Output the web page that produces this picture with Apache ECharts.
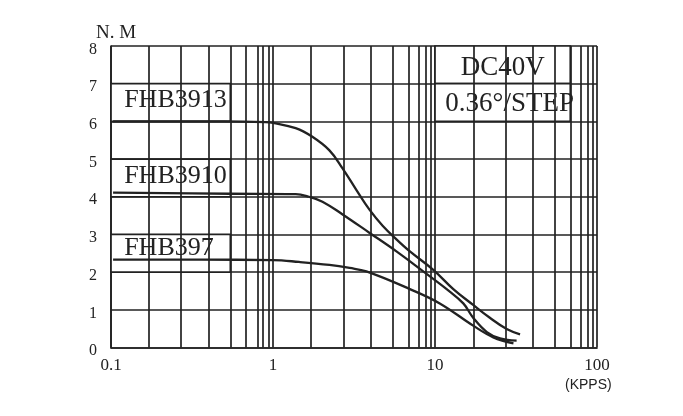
<!DOCTYPE html>
<html>
<head>
<meta charset="utf-8">
<script src="https://cdn.jsdelivr.net/npm/echarts@6/dist/echarts.min.js"></script>
<style>html,body{margin:0;padding:0;background:#fff}#c{width:683px;height:416px}</style>
</head>
<body>
<div id="c"></div>
<script>
// ---- data ----
const xTickValues = [0.1, 1, 10, 100];
const xTickLabels = ['0.1', '1', '10', '100'];
// minor vertical grid lines inside each decade, as multiples of the decade start (as drawn in the reference)
const minorFactors = [1.724, 2.735, 4.018, 5.453, 6.84, 7.96, 8.71, 9.38];

const fhb3913X = [0.103, 0.5, 0.9, 1.0, 1.38, 1.75, 2.23, 2.68, 3.26, 3.95, 4.75, 5.78, 7.0, 9.76, 12.97, 17.2, 21.8, 27.7, 33.5];
const fhb3913Y = [6.0, 6.0, 5.98, 5.96, 5.82, 5.59, 5.23, 4.76, 4.19, 3.65, 3.23, 2.87, 2.55, 2.06, 1.55, 1.13, 0.79, 0.49, 0.35];

const fhb3910X = [0.103, 0.543, 1.38, 1.67, 2.02, 2.69, 3.95, 5.78, 8.46, 11.8, 14.95, 17.2, 20.9, 25.2, 31.9];
const fhb3910Y = [4.11, 4.08, 4.07, 4.0, 3.87, 3.53, 3.04, 2.55, 2.02, 1.55, 1.17, 0.79, 0.41, 0.24, 0.18];

const fhb397X = [0.103, 0.354, 1.0, 1.45, 2.23, 2.97, 3.77, 7.0, 10.7, 17.2, 22.9, 30.5];
const fhb397Y = [2.33, 2.33, 2.32, 2.27, 2.19, 2.11, 2.02, 1.55, 1.17, 0.58, 0.27, 0.11];

const seriesNames = ['FHB3913', 'FHB3910', 'FHB397'];
const noteTexts = ['DC40V', '0.36°/STEP'];

// ---- build ----
const pair = (xs, ys) => xs.map((x, i) => [x, ys[i]]);
const ink = '#222';
const serif = '"Liberation Serif", "DejaVu Serif", serif';
const gridW = 1.7;

const minorLines = [];
[0.1, 1, 10].forEach(d => minorFactors.forEach(f => minorLines.push({ xAxis: d * f })));

const boxStyle = { color: '#fff', borderColor: ink, borderWidth: gridW };
const nameLabel = (dy) => ({
  show: true, position: 'insideLeft', distance: 14, offset: [0, dy],
  color: ink, fontFamily: serif, fontSize: 26, formatter: '{b}'
});
const noteLabel = (dx, dy) => ({
  show: true, position: 'inside', offset: [dx, dy],
  color: ink, fontFamily: serif, fontSize: 27, formatter: '{b}'
});

const boxEdge = 0.1 * minorFactors[3];
const noteEdge = 10 * minorFactors[4];

const curve = (name, data) => ({
  name, type: 'line', data, z: 5, symbol: 'none', smooth: 0.4,
  lineStyle: { color: ink, width: 2.3 }, silent: true, animation: false
});

const chart = echarts.init(document.getElementById('c'), null, { renderer: 'canvas' });
chart.setOption({
  backgroundColor: '#fff',
  animation: false,
  grid: { left: 111, right: 86, top: 46, bottom: 68.5 },
  title: [
    { text: 'N. M', left: 91, top: 19, textStyle: { fontFamily: serif, fontSize: 19, fontWeight: 'normal', color: ink } },
    { text: '(KPPS)', left: 560, top: 373, textStyle: { fontFamily: '"Liberation Sans", Arial, sans-serif', fontSize: 14, fontWeight: 'normal', color: ink } }
  ],
  xAxis: {
    type: 'log', logBase: 10, min: 0.1, max: 100,
    axisLine: { show: true, lineStyle: { color: ink, width: gridW } },
    axisTick: { show: false },
    splitLine: { show: true, lineStyle: { color: ink, width: gridW } },
    axisLabel: {
      margin: 10, color: ink, fontFamily: serif, fontSize: 17,
      formatter: v => { const i = xTickValues.findIndex(t => Math.abs(t - v) < 1e-9 * Math.max(1, t)); return i >= 0 ? xTickLabels[i] : ''; }
    }
  },
  yAxis: {
    type: 'value', min: 0, max: 8, interval: 1,
    axisLine: { show: true, lineStyle: { color: ink, width: gridW } },
    axisTick: { show: false },
    splitLine: { show: true, lineStyle: { color: ink, width: gridW } },
    axisLabel: { margin: 14, color: ink, fontFamily: serif, fontSize: 16, verticalAlign: 'top', lineHeight: 7 }
  },
  series: [
    {
      name: 'grid', type: 'line', data: [], z: 1, silent: true, animation: false,
      markLine: {
        silent: true, symbol: ['none', 'none'], animation: false,
        label: { show: false },
        lineStyle: { color: ink, width: gridW, type: 'solid' },
        emphasis: { disabled: true },
        data: minorLines
      }
    },
    {
      name: 'boxes', type: 'line', data: [], z: 3, silent: true, animation: false,
      markArea: {
        silent: true, animation: false, itemStyle: boxStyle, emphasis: { disabled: true },
        data: [
          [{ name: seriesNames[0], xAxis: 0.1, yAxis: 7, label: nameLabel(-2) }, { xAxis: boxEdge, yAxis: 6 }],
          [{ name: seriesNames[1], xAxis: 0.1, yAxis: 5, label: nameLabel(-2) }, { xAxis: boxEdge, yAxis: 4 }],
          [{ name: seriesNames[2], xAxis: 0.1, yAxis: 3, label: nameLabel(-5) }, { xAxis: boxEdge, yAxis: 2 }],
          [{ name: noteTexts[0], xAxis: 10, yAxis: 8, label: noteLabel(0, 3) }, { xAxis: noteEdge, yAxis: 7 }],
          [{ name: noteTexts[1], xAxis: 10, yAxis: 7, label: noteLabel(7, 1) }, { xAxis: noteEdge, yAxis: 6 }]
        ]
      }
    },
    curve(seriesNames[0], pair(fhb3913X, fhb3913Y)),
    curve(seriesNames[1], pair(fhb3910X, fhb3910Y)),
    curve(seriesNames[2], pair(fhb397X, fhb397Y))
  ]
});
</script>
</body>
</html>
